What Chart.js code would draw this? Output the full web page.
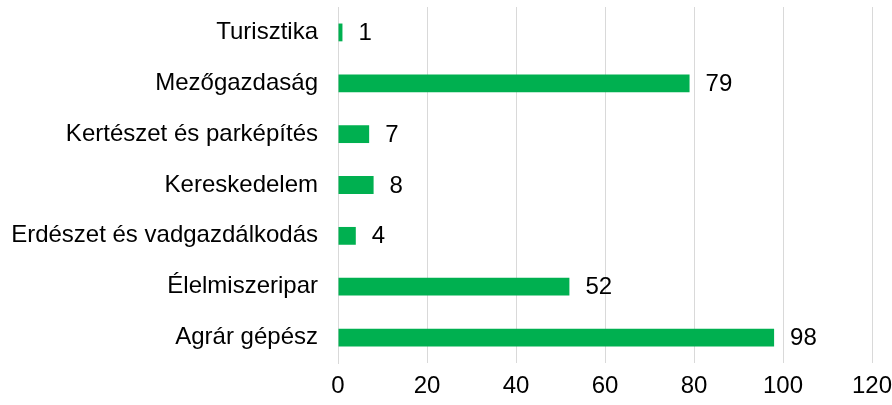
<!DOCTYPE html>
<html>
<head>
<meta charset="utf-8">
<script src="https://cdn.jsdelivr.net/npm/chart.js@4/dist/chart.umd.min.js"></script>
<style>
  html, body { margin: 0; padding: 0; background: #ffffff; }
  #wrap { width: 892px; height: 405px; position: relative; }
</style>
</head>
<body>
<div id="wrap"><canvas id="chart_szakmak"></canvas></div>
<script>
// data
var categories = [
    'Turisztika',
    'Mezőgazdaság',
    'Kertészet és parképítés',
    'Kereskedelem',
    'Erdészet és vadgazdálkodás',
    'Élelmiszeripar',
    'Agrár gépész'
];
var values = [1, 79, 7, 8, 4, 52, 98];
var xTicks = [0, 20, 40, 60, 80, 100, 120];

var FONT = "'Liberation Sans', Arial, sans-serif";
var FONT_SIZE = 24;

var chart_szakmak = new Chart(document.getElementById('chart_szakmak'), {
    type: 'bar',
    data: {
        labels: categories,
        datasets: [
            {
                label: 'Létszám',
                data: values,
                backgroundColor: '#00b050',
                borderWidth: 0,
                barPercentage: 0.35,
                categoryPercentage: 1.0
            }
        ]
    },
    options: {
        indexAxis: 'y',
        animation: false,
        responsive: true,
        maintainAspectRatio: false,
        layout: {
            padding: { top: 7, right: 20, bottom: 0, left: 0 }
        },
        plugins: {
            legend: { display: false },
            tooltip: { enabled: false },
            title: { display: false }
        },
        scales: {
            x: {
                type: 'linear',
                min: 0,
                max: 120,
                afterBuildTicks: function(scale) {
                    scale.ticks = xTicks.map(function(v) { return { value: v }; });
                },
                afterFit: function(scale) {
                    scale.height = 42;
                    scale.paddingLeft = 0;
                    scale.paddingRight = 0;
                },
                grid: {
                    color: '#d9d9d9',
                    lineWidth: 1,
                    drawTicks: false
                },
                border: { display: false },
                ticks: {
                    color: '#000000',
                    padding: 9,
                    font: { family: FONT, size: FONT_SIZE }
                }
            },
            y: {
                afterFit: function(scale) {
                    scale.width = 338;
                    // tick padding would otherwise push the plot area down
                    scale.paddingTop = 0;
                    scale.paddingBottom = 0;
                },
                grid: { display: false, drawTicks: false },
                border: { display: true, color: '#d9d9d9', width: 1 },
                ticks: {
                    color: '#000000',
                    padding: 20,
                    font: { family: FONT, size: FONT_SIZE }
                }
            }
        }
    },
    plugins: [{
        id: 'valueLabels',
        afterDatasetsDraw: function(chart) {
            var ctx = chart.ctx;
            var meta = chart.getDatasetMeta(0);
            ctx.save();
            ctx.fillStyle = '#000000';
            ctx.font = FONT_SIZE + 'px ' + FONT;
            ctx.textAlign = 'left';
            ctx.textBaseline = 'middle';
            meta.data.forEach(function(bar, i) {
                ctx.fillText(String(values[i]), bar.x + 16, bar.y + 1);
            });
            ctx.restore();
        }
    }, {
        id: 'whiteBackground',
        beforeDraw: function(chart) {
            var ctx = chart.canvas.getContext('2d');
            ctx.save();
            ctx.globalCompositeOperation = 'destination-over';
            ctx.fillStyle = 'white';
            ctx.fillRect(0, 0, chart.canvas.width, chart.canvas.height);
            ctx.restore();
        }
    }]
});
</script>
</body>
</html>
